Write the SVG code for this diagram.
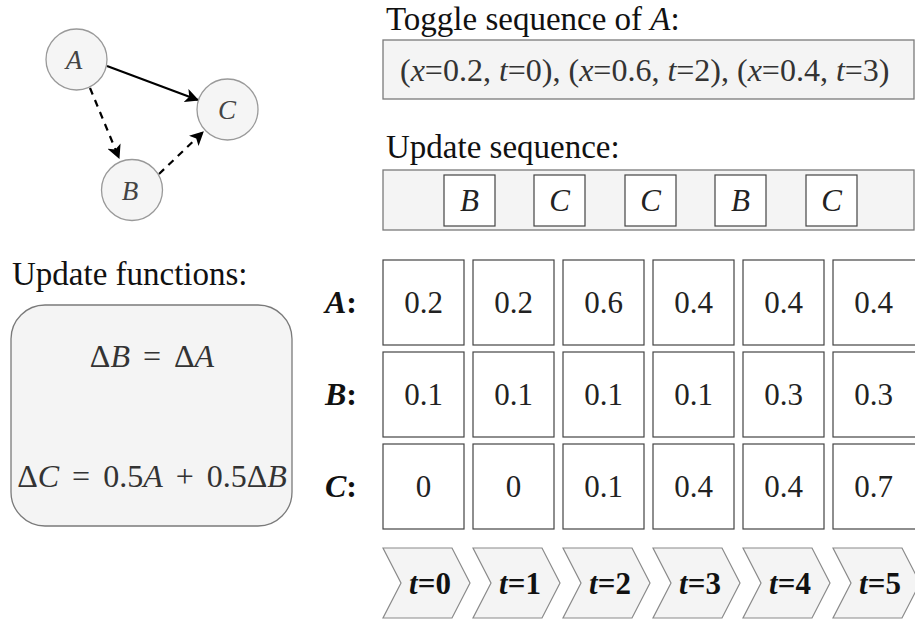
<svg xmlns="http://www.w3.org/2000/svg" width="915" height="623" viewBox="0 0 915 623" font-family="'Liberation Serif', 'DejaVu Serif', serif">
  <style>
    text { font-family: "Liberation Serif", "DejaVu Serif", serif; }
    .node { fill: #f5f5f5; stroke: #999999; stroke-width: 1.3; }
    .nlabel { font-size: 27px; font-style: italic; fill: #444444; text-anchor: middle; }
    .panel { fill: #f4f4f4; stroke: #7a7a7a; stroke-width: 1.3; }
    .title { font-size: 33px; fill: #111111; }
    .seq { font-size: 32px; fill: #333333; }
    .cell { fill: #ffffff; stroke: #444444; stroke-width: 1.2; }
    .val { font-size: 31px; fill: #222222; text-anchor: middle; }
    .slot { fill: #ffffff; stroke: #444444; stroke-width: 1.2; }
    .slotlabel { font-size: 31px; font-style: italic; fill: #222222; text-anchor: middle; }
    .rowlabel { font-size: 32px; font-style: italic; font-weight: bold; fill: #111111; }
    .math { font-size: 32px; fill: #333333; text-anchor: middle; word-spacing: 5px; }
    .chev { fill: #f4f4f4; stroke: #8a8a8a; stroke-width: 1.2; }
    .step { font-size: 31px; font-weight: bold; fill: #111111; text-anchor: middle; }
    .edge { fill: none; stroke: #000000; stroke-width: 2.2; }
    .dashed { stroke-dasharray: 7 6; }
  </style>
  <defs>
    <marker id="arrow" viewBox="0 0 12 12" refX="11" refY="6" markerWidth="14" markerHeight="14" markerUnits="userSpaceOnUse" orient="auto">
      <path d="M0,0 L12,6 L0,12 L3,6 z" fill="#000000"/>
    </marker>
  </defs>

  <!-- dependency graph -->
  <g id="connectors">
    <line class="edge" x1="107" y1="66" x2="198" y2="100" marker-end="url(#arrow)"/>
    <line class="edge dashed" x1="90" y1="88" x2="119" y2="158" marker-end="url(#arrow)"/>
    <line class="edge dashed" x1="159" y1="174" x2="203" y2="132" marker-end="url(#arrow)"/>
  </g>
  <g id="node-A">
    <circle class="node" cx="76.5" cy="59.5" r="30.5"/>
    <text class="nlabel" x="74" y="69">A</text>
  </g>
  <g id="node-C">
    <circle class="node" cx="227.5" cy="109.5" r="30.5"/>
    <text class="nlabel" x="227" y="119">C</text>
  </g>
  <g id="node-B">
    <circle class="node" cx="132" cy="190" r="30.5"/>
    <text class="nlabel" x="130" y="200">B</text>
  </g>

  <!-- toggle sequence -->
  <g id="toggle">
    <text class="title" x="386" y="30">Toggle sequence of <tspan font-style="italic">A</tspan>:</text>
    <rect class="panel" x="383" y="40" width="531" height="59"/>
    <text class="seq" x="400" y="81">(<tspan font-style="italic">x</tspan>=0.2, <tspan font-style="italic">t</tspan>=0), (<tspan font-style="italic">x</tspan>=0.6, <tspan font-style="italic">t</tspan>=2), (<tspan font-style="italic">x</tspan>=0.4, <tspan font-style="italic">t</tspan>=3)</text>
  </g>

  <!-- update sequence -->
  <g id="update-sequence">
    <text class="title" x="386" y="158">Update sequence:</text>
    <rect class="panel" x="383" y="170" width="531" height="60"/>
    <rect class="slot" x="444" y="175" width="51" height="51"/>
    <text class="slotlabel" x="469.5" y="211">B</text>
    <rect class="slot" x="534" y="175" width="51" height="51"/>
    <text class="slotlabel" x="559.5" y="211">C</text>
    <rect class="slot" x="625" y="175" width="51" height="51"/>
    <text class="slotlabel" x="650.5" y="211">C</text>
    <rect class="slot" x="715" y="175" width="51" height="51"/>
    <text class="slotlabel" x="740.5" y="211">B</text>
    <rect class="slot" x="806" y="175" width="51" height="51"/>
    <text class="slotlabel" x="831.5" y="211">C</text>
  </g>

  <!-- update functions -->
  <g id="update-functions">
    <text class="title" x="12" y="285">Update functions:</text>
    <rect class="panel" x="11" y="305" width="281" height="221" rx="34" ry="34"/>
    <text class="math" x="152" y="367">Δ<tspan font-style="italic">B</tspan> = Δ<tspan font-style="italic">A</tspan></text>
    <text class="math" x="152" y="487">Δ<tspan font-style="italic">C</tspan> = 0.5<tspan font-style="italic">A</tspan> + 0.5Δ<tspan font-style="italic">B</tspan></text>
  </g>

  <!-- state table -->
  <g id="row-A">
    <text class="rowlabel" x="325" y="313">A<tspan font-style="normal">:</tspan></text>
    <rect class="cell" x="383" y="260" width="81" height="85"/>
    <text class="val" x="423.5" y="313">0.2</text>
    <rect class="cell" x="473" y="260" width="81" height="85"/>
    <text class="val" x="513.5" y="313">0.2</text>
    <rect class="cell" x="563" y="260" width="81" height="85"/>
    <text class="val" x="603.5" y="313">0.6</text>
    <rect class="cell" x="653" y="260" width="81" height="85"/>
    <text class="val" x="693.5" y="313">0.4</text>
    <rect class="cell" x="743" y="260" width="81" height="85"/>
    <text class="val" x="783.5" y="313">0.4</text>
    <rect class="cell" x="833" y="260" width="90" height="85"/>
    <text class="val" x="873.5" y="313">0.4</text>
  </g>
  <g id="row-B">
    <text class="rowlabel" x="325" y="405">B<tspan font-style="normal">:</tspan></text>
    <rect class="cell" x="383" y="352" width="81" height="85"/>
    <text class="val" x="423.5" y="405">0.1</text>
    <rect class="cell" x="473" y="352" width="81" height="85"/>
    <text class="val" x="513.5" y="405">0.1</text>
    <rect class="cell" x="563" y="352" width="81" height="85"/>
    <text class="val" x="603.5" y="405">0.1</text>
    <rect class="cell" x="653" y="352" width="81" height="85"/>
    <text class="val" x="693.5" y="405">0.1</text>
    <rect class="cell" x="743" y="352" width="81" height="85"/>
    <text class="val" x="783.5" y="405">0.3</text>
    <rect class="cell" x="833" y="352" width="90" height="85"/>
    <text class="val" x="873.5" y="405">0.3</text>
  </g>
  <g id="row-C">
    <text class="rowlabel" x="325" y="497">C<tspan font-style="normal">:</tspan></text>
    <rect class="cell" x="383" y="444" width="81" height="85"/>
    <text class="val" x="423.5" y="497">0</text>
    <rect class="cell" x="473" y="444" width="81" height="85"/>
    <text class="val" x="513.5" y="497">0</text>
    <rect class="cell" x="563" y="444" width="81" height="85"/>
    <text class="val" x="603.5" y="497">0.1</text>
    <rect class="cell" x="653" y="444" width="81" height="85"/>
    <text class="val" x="693.5" y="497">0.4</text>
    <rect class="cell" x="743" y="444" width="81" height="85"/>
    <text class="val" x="783.5" y="497">0.4</text>
    <rect class="cell" x="833" y="444" width="90" height="85"/>
    <text class="val" x="873.5" y="497">0.7</text>
  </g>

  <!-- time steps -->
  <g id="timeline">
    <path class="chev" d="M383,548 H452 L470,583 L452,618 H383 L401,583 Z"/>
    <text class="step" x="430" y="594"><tspan font-style="italic">t</tspan>=0</text>
    <path class="chev" d="M473,548 H542 L560,583 L542,618 H473 L491,583 Z"/>
    <text class="step" x="520" y="594"><tspan font-style="italic">t</tspan>=1</text>
    <path class="chev" d="M563,548 H632 L650,583 L632,618 H563 L581,583 Z"/>
    <text class="step" x="610" y="594"><tspan font-style="italic">t</tspan>=2</text>
    <path class="chev" d="M653,548 H722 L740,583 L722,618 H653 L671,583 Z"/>
    <text class="step" x="700" y="594"><tspan font-style="italic">t</tspan>=3</text>
    <path class="chev" d="M743,548 H812 L830,583 L812,618 H743 L761,583 Z"/>
    <text class="step" x="790" y="594"><tspan font-style="italic">t</tspan>=4</text>
    <path class="chev" d="M833,548 H902 L920,583 L902,618 H833 L851,583 Z"/>
    <text class="step" x="880" y="594"><tspan font-style="italic">t</tspan>=5</text>
  </g>
</svg>
